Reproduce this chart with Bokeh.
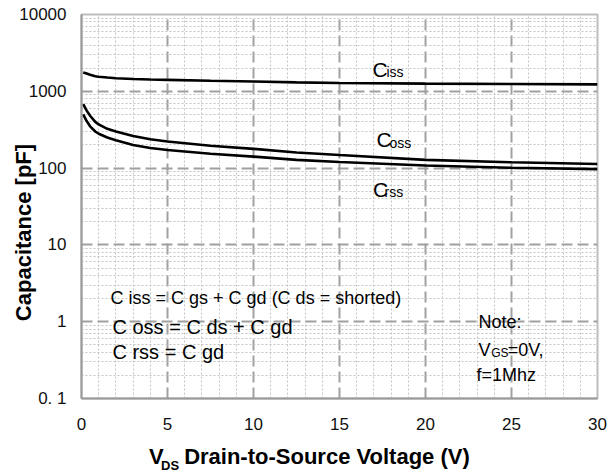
import math
from bokeh.plotting import figure
from bokeh.models import FixedTicker, Label, LinearAxis, LogAxis
from bokeh.embed import file_html
from bokeh.resources import INLINE

# ---- data ----
vds = [0.1, 0.3, 0.5, 0.8, 1, 1.5, 2, 3, 4, 5, 7.5, 10, 12.5, 15, 20, 25, 30]
ciss = [1760, 1700, 1640, 1570, 1550, 1510, 1480, 1445, 1425, 1410, 1370, 1340, 1305, 1285, 1260, 1245, 1230]
coss = [680, 560, 480, 400, 370, 325, 300, 262, 238, 222, 195, 178, 160, 148, 128, 119, 113]
crss = [500, 410, 350, 300, 280, 250, 230, 200, 183, 172, 154, 141, 128, 120, 108, 101, 97]

x_ticks = [0, 5, 10, 15, 20, 25, 30]
x_minor = [v for v in range(0, 31) if v % 5 != 0]
y_ticks = [0.1, 1, 10, 100, 1000, 10000]
y_tick_labels = ["0. 1", "1", "10", "100", "1000", "10000"]
y_minor = [m * d for d in [0.1, 1, 10, 100, 1000] for m in range(2, 10)]

x_title = ["V", "Drain-to-Source Voltage (V)"]
x_title_sub = ["DS"]
y_title = ["Capacitance [pF]"]

FONT = "Liberation Sans"

p = figure(width=608, height=475, x_range=(0, 30), y_range=(0.1, 10000),
           y_axis_type="log", output_backend="svg", toolbar_location=None,
           min_border_left=81, min_border_right=11, min_border_top=14,
           min_border_bottom=77, title=None)
p.background_fill_color = "white"
p.border_fill_color = "white"
p.outline_line_color = "#bdbdbd"
p.outline_line_width = 2

xmain = p.xaxis[0]
ymain = p.yaxis[0]

# ticks / axes
xmain.ticker = FixedTicker(ticks=x_ticks, minor_ticks=x_minor)
ymain.ticker = FixedTicker(ticks=y_ticks, minor_ticks=y_minor)
ymain.major_label_overrides = {t: l for t, l in zip(y_ticks, y_tick_labels)}
for ax in (xmain, ymain):
    ax.axis_line_color = "#9a9a9a"
    ax.axis_line_width = 2
    ax.major_tick_line_color = None
    ax.minor_tick_line_color = None
    ax.major_tick_out = 0
    ax.major_tick_in = 0
    ax.minor_tick_out = 0
    ax.major_label_text_font = FONT
    ax.major_label_text_font_size = "17px"
    ax.major_label_text_color = "#111111"
ymain.major_label_standoff = 15
xmain.major_label_standoff = 19

# grids
for g in (p.xgrid, p.ygrid):
    g.grid_line_color = "#a0a0a0"
    g.grid_line_width = 2
    g.grid_line_dash = "11 5"
    g.minor_grid_line_color = "#c4c4c4"
    g.minor_grid_line_width = 1
    g.minor_grid_line_dash = "2 2"

# curves
for series in (ciss, coss, crss):
    p.line(vds, series, line_color="black", line_width=2.6)

def lab(x, y, text, size):
    p.add_layout(Label(x=x, y=y, text=text, text_font=FONT, text_font_size=size,
                       text_align="left", text_baseline="alphabetic",
                       text_color="black"))

# curve labels
lab(16.92, 1912, "C", "21px")
lab(17.73, 1785, "iss", "14px")
lab(17.15, 234, "C", "21px")
lab(17.90, 212, "oss", "14px")
lab(16.95, 52, "C", "21px")
lab(17.62, 49.5, "rss", "14px")

# formulas
lab(1.69, 2.02, "C iss = C gs + C gd (C ds = shorted)", "18px")
lab(1.80, 0.861, "C oss = C ds + C gd", "20px")
lab(1.80, 0.406, "C rss = C gd", "20px")

# note
lab(23.08, 1.0, "Note:", "18px")
lab(23.08, 0.428, "V", "18px")
lab(23.82, 0.394, "GS", "12px")
lab(24.78, 0.428, "=0V,", "18px")
lab(22.97, 0.2018, "f=1Mhz", "18px")

# axis titles drawn as label-only axes (placed through the plot's own scales)
def title_axis(cls, ticks, labels, size, standoff, orientation="horizontal"):
    ax = cls(ticker=FixedTicker(ticks=ticks),
             major_label_overrides=dict(zip(ticks, labels)))
    ax.axis_line_color = None
    ax.major_tick_line_color = None
    ax.minor_tick_line_color = None
    ax.major_tick_out = 0
    ax.major_tick_in = 0
    ax.minor_tick_out = 0
    ax.major_label_text_font = FONT
    ax.major_label_text_font_size = size
    ax.major_label_text_font_style = "bold"
    ax.major_label_text_color = "black"
    ax.major_label_standoff = standoff
    ax.major_label_orientation = orientation
    return ax

p.add_layout(title_axis(LinearAxis, [4.35, 14.27], x_title, "22px", 11), "below")
p.add_layout(title_axis(LinearAxis, [5.15], x_title_sub, "13px", -14), "below")
p.add_layout(title_axis(LogAxis, [14.5], y_title, "22px", -20, "vertical"), "left")

open("out.html", "w").write(file_html(p, INLINE))
